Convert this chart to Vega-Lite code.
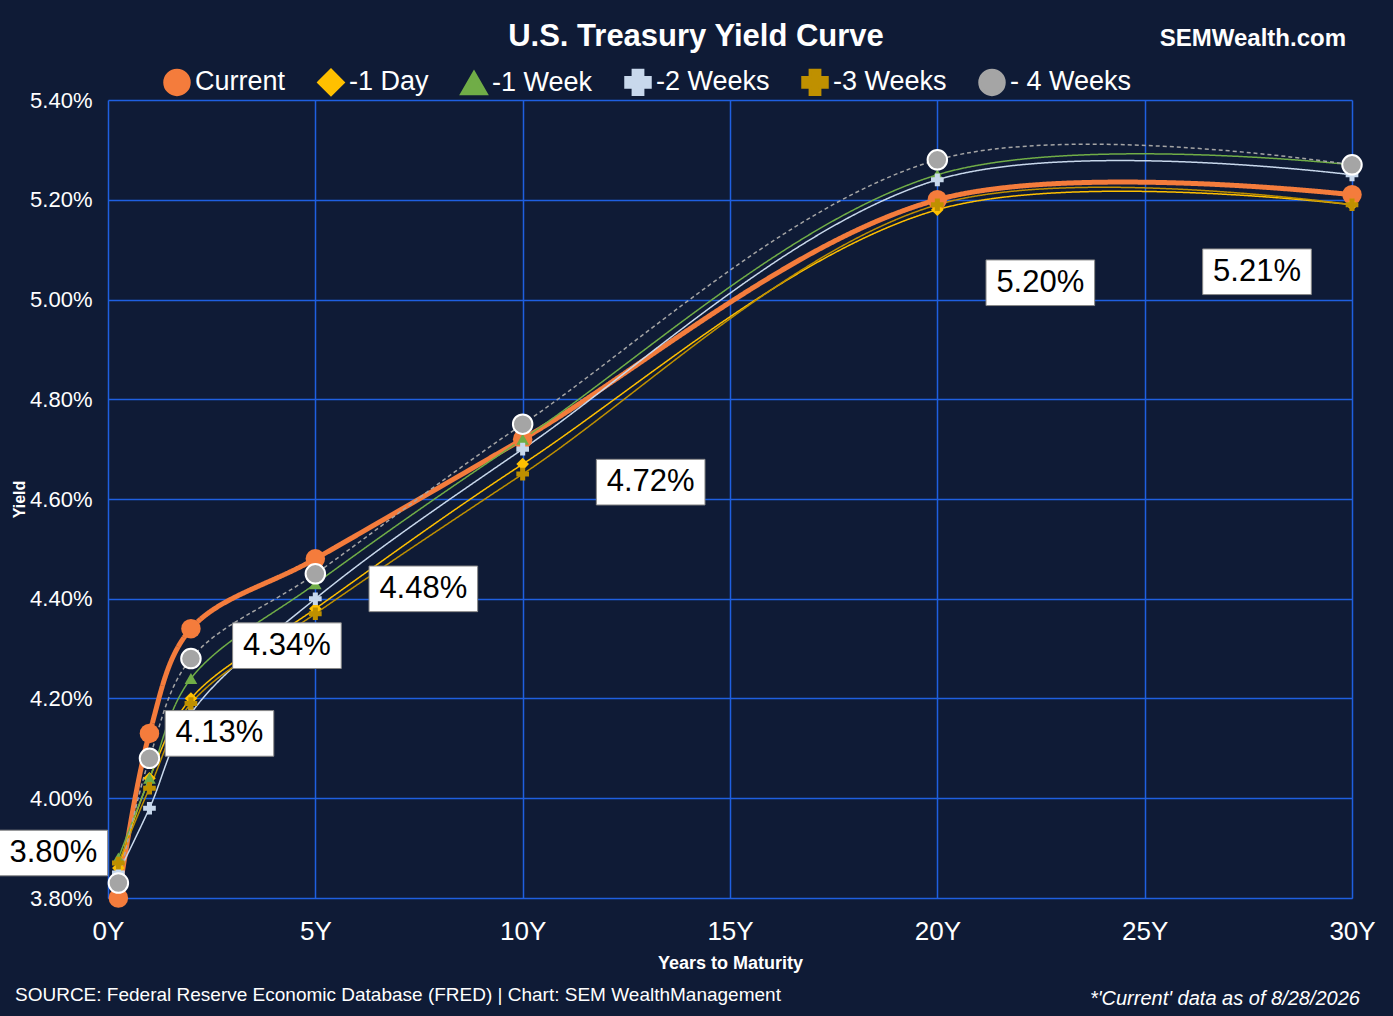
{
  "$schema": "https://vega.github.io/schema/vega-lite/v6.json",
  "width": 1244, "height": 798,
  "autosize": "none",
  "padding": {"left": 108, "right": 41, "top": 100, "bottom": 118},
  "background": "#0f1b36",
  "config": {"view": {"stroke": null}, "font": "Liberation Sans"},
  "data": {"values": [
    {"s": "Current", "x": 0.25, "y": 3.80}, {"s": "Current", "x": 1, "y": 4.13}, {"s": "Current", "x": 2, "y": 4.34}, {"s": "Current", "x": 5, "y": 4.48}, {"s": "Current", "x": 10, "y": 4.72}, {"s": "Current", "x": 20, "y": 5.20}, {"s": "Current", "x": 30, "y": 5.21},
    {"s": "-1 Day", "x": 0.25, "y": 3.86}, {"s": "-1 Day", "x": 1, "y": 4.04}, {"s": "-1 Day", "x": 2, "y": 4.20}, {"s": "-1 Day", "x": 5, "y": 4.38}, {"s": "-1 Day", "x": 10, "y": 4.67}, {"s": "-1 Day", "x": 20, "y": 5.18}, {"s": "-1 Day", "x": 30, "y": 5.19},
    {"s": "-1 Week", "x": 0.25, "y": 3.88}, {"s": "-1 Week", "x": 1, "y": 4.04}, {"s": "-1 Week", "x": 2, "y": 4.24}, {"s": "-1 Week", "x": 5, "y": 4.43}, {"s": "-1 Week", "x": 10, "y": 4.72}, {"s": "-1 Week", "x": 20, "y": 5.25}, {"s": "-1 Week", "x": 30, "y": 5.27},
    {"s": "-2 Weeks", "x": 0.25, "y": 3.85}, {"s": "-2 Weeks", "x": 1, "y": 3.98}, {"s": "-2 Weeks", "x": 2, "y": 4.17}, {"s": "-2 Weeks", "x": 5, "y": 4.40}, {"s": "-2 Weeks", "x": 10, "y": 4.70}, {"s": "-2 Weeks", "x": 20, "y": 5.24}, {"s": "-2 Weeks", "x": 30, "y": 5.25},
    {"s": "-3 Weeks", "x": 0.25, "y": 3.87}, {"s": "-3 Weeks", "x": 1, "y": 4.02}, {"s": "-3 Weeks", "x": 2, "y": 4.19}, {"s": "-3 Weeks", "x": 5, "y": 4.37}, {"s": "-3 Weeks", "x": 10, "y": 4.65}, {"s": "-3 Weeks", "x": 20, "y": 5.19}, {"s": "-3 Weeks", "x": 30, "y": 5.19},
    {"s": "- 4 Weeks", "x": 0.25, "y": 3.83}, {"s": "- 4 Weeks", "x": 1, "y": 4.08}, {"s": "- 4 Weeks", "x": 2, "y": 4.28}, {"s": "- 4 Weeks", "x": 5, "y": 4.45}, {"s": "- 4 Weeks", "x": 10, "y": 4.75}, {"s": "- 4 Weeks", "x": 20, "y": 5.28}, {"s": "- 4 Weeks", "x": 30, "y": 5.27}
  ]},
  "encoding": {
    "x": {"field": "x", "type": "quantitative", "scale": {"domain": [0, 30], "nice": false},
      "axis": {"values": [0, 5, 10, 15, 20, 25, 30], "labelExpr": "datum.value + 'Y'", "labelFlush": false, "title": "Years to Maturity", "titleColor": "white", "titleFontSize": 18, "labelColor": "white", "labelFontSize": 26, "gridColor": "#1f5fe0", "gridWidth": 1.5, "domainColor": "#1f5fe0", "ticks": false, "labelPadding": 20, "titlePadding": 10}},
    "y": {"field": "y", "type": "quantitative", "scale": {"domain": [3.8, 5.4], "nice": false, "zero": false},
      "axis": {"values": [3.8, 4.0, 4.2, 4.4, 4.6, 4.8, 5.0, 5.2, 5.4], "labelExpr": "format(datum.value, '.2f') + '%'", "title": "Yield", "titleColor": "white", "titleFontSize": 16, "labelColor": "white", "labelFontSize": 22, "gridColor": "#1f5fe0", "gridWidth": 1.5, "domain": false, "ticks": false, "labelPadding": 16, "titlePadding": 2}}
  },
  "layer": [
    {
      "mark": {"type": "line", "interpolate": "catmull-rom"},
      "encoding": {
        "color": {"field": "s", "type": "nominal", "sort": null,
          "scale": {"domain": ["Current", "-1 Day", "-1 Week", "-2 Weeks", "-3 Weeks", "- 4 Weeks"], "range": ["#f47c3c", "#ffc000", "#70ad47", "#c8d8ec", "#bf9000", "#a5a5a5"]},
          "legend": {"orient": "none", "legendX": 55, "legendY": -32, "direction": "horizontal", "title": null, "labelColor": "white", "labelFontSize": 27, "symbolType": "stroke", "symbolStrokeWidth": 3, "symbolSize": 600, "columnPadding": 26}},
        "strokeWidth": {"condition": {"test": "datum.s == 'Current'", "value": 5}, "value": 1.5},
        "strokeDash": {"condition": {"test": "datum.s == '- 4 Weeks'", "value": [4, 3]}, "value": [1, 0]},
        "order": {"field": "x"}
      }
    },
    {
      "mark": {"type": "point", "filled": true, "opacity": 1},
      "encoding": {
        "color": {"field": "s", "type": "nominal", "legend": null},
        "shape": {"field": "s", "type": "nominal", "legend": null,
          "scale": {"domain": ["Current", "-1 Day", "-1 Week", "-2 Weeks", "-3 Weeks", "- 4 Weeks"], "range": ["circle", "diamond", "triangle-up", "cross", "cross", "circle"]}},
        "size": {"condition": {"test": "datum.s == 'Current' || datum.s == '- 4 Weeks'", "value": 380}, "value": 160},
        "stroke": {"condition": {"test": "datum.s == '- 4 Weeks'", "value": "#ffffff"}, "value": null}
      }
    },
    {
      "transform": [{"filter": "datum.s == 'Current'"}],
      "mark": {"type": "point", "filled": true, "fill": "white", "stroke": "#888", "strokeWidth": 1, "opacity": 1,
        "shape": "M-1,-0.42L1,-0.42L1,0.42L-1,0.42Z",
        "xOffset": {"expr": "datum.x == 0.25 ? -65 : datum.x == 1 ? 70 : datum.x == 2 ? 96 : datum.x == 5 ? 108 : datum.x == 10 ? 128 : datum.x == 20 ? 103 : -95"},
        "yOffset": {"expr": "datum.x == 0.25 ? -45 : datum.x == 1 ? 0 : datum.x == 2 ? 17 : datum.x == 5 ? 30 : datum.x == 10 ? 43 : datum.x == 20 ? 83 : 77"}},
      "encoding": {"size": {"value": 11800}}
    },
    {
      "transform": [{"filter": "datum.s == 'Current'"}, {"calculate": "format(datum.y, '.2f') + '%'", "as": "lbl"}],
      "mark": {"type": "text", "fontSize": 31, "color": "black",
        "dx": {"expr": "datum.x == 0.25 ? -65 : datum.x == 1 ? 70 : datum.x == 2 ? 96 : datum.x == 5 ? 108 : datum.x == 10 ? 128 : datum.x == 20 ? 103 : -95"},
        "dy": {"expr": "datum.x == 0.25 ? -45 : datum.x == 1 ? 0 : datum.x == 2 ? 17 : datum.x == 5 ? 30 : datum.x == 10 ? 43 : datum.x == 20 ? 83 : 77"}},
      "encoding": {"text": {"field": "lbl", "type": "nominal"}}
    },
    {
      "data": {"values": [{"t": "U.S. Treasury Yield Curve"}]},
      "mark": {"type": "text", "color": "white", "fontSize": 31, "fontWeight": "bold", "align": "center", "x": 588, "y": -63},
      "encoding": {"text": {"field": "t"}, "x": null, "y": null}
    },
    {
      "data": {"values": [{"t": "SEMWealth.com"}]},
      "mark": {"type": "text", "color": "white", "fontSize": 24, "fontWeight": "bold", "align": "right", "x": 1238, "y": -61},
      "encoding": {"text": {"field": "t"}, "x": null, "y": null}
    },
    {
      "data": {"values": [{"t": "SOURCE: Federal Reserve Economic Database (FRED) | Chart: SEM WealthManagement"}]},
      "mark": {"type": "text", "color": "white", "fontSize": 19, "align": "left", "x": -93, "y": 895},
      "encoding": {"text": {"field": "t"}, "x": null, "y": null}
    },
    {
      "data": {"values": [{"t": "*'Current' data as of 8/28/2026"}]},
      "mark": {"type": "text", "color": "white", "fontSize": 20, "fontStyle": "italic", "align": "right", "x": 1252, "y": 899},
      "encoding": {"text": {"field": "t"}, "x": null, "y": null}
    }
  ]
}
